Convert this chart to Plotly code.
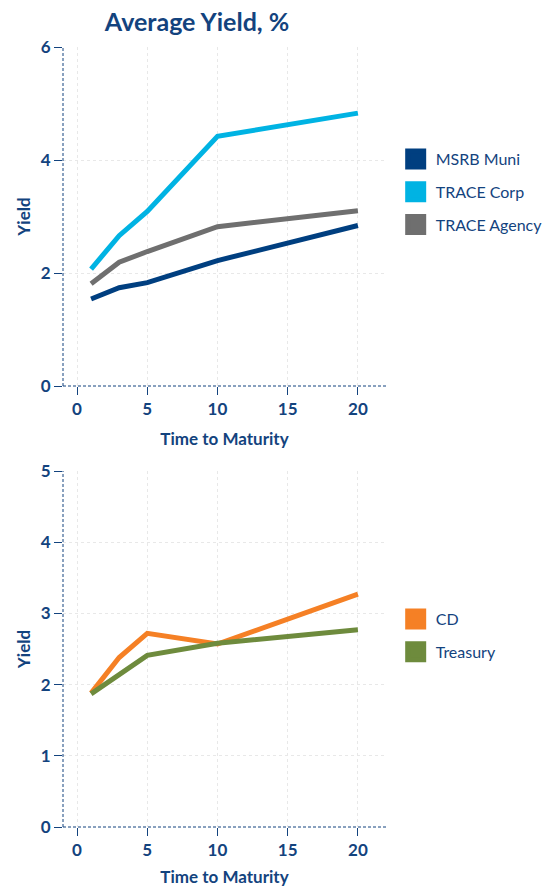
import plotly.graph_objects as go

# ---- data ----
maturity = [1, 3, 5, 10, 20]
msrb_muni = [1.54, 1.74, 1.83, 2.22, 2.84]
trace_corp = [2.07, 2.66, 3.09, 4.42, 4.83]
trace_agency = [1.81, 2.19, 2.38, 2.82, 3.10]
cd = [1.88, 2.38, 2.72, 2.57, 3.27]
treasury = [1.87, 2.13, 2.41, 2.58, 2.77]

top_names = ["MSRB Muni", "TRACE Corp", "TRACE Agency"]
top_values = [msrb_muni, trace_corp, trace_agency]
top_colors = ["#003f80", "#00b3e3", "#6f6f6f"]

bottom_names = ["CD", "Treasury"]
bottom_values = [cd, treasury]
bottom_colors = ["#f58025", "#6e8b3d"]

x_ticks = [0, 5, 10, 15, 20]
top_y_ticks = [0, 2, 4, 6]
bottom_y_ticks = [0, 1, 2, 3, 4, 5]

TEXT = "#13437e"
FONT = "Lato, 'Open Sans', sans-serif"
W, H = 546, 887

fig = go.Figure()

def add_group(names, values, colors, xa, ya, legend):
    for n, v, c in zip(names, values, colors):
        fig.add_trace(go.Scatter(x=maturity, y=v, mode="lines", name=n,
                                 line=dict(color=c, width=5),
                                 xaxis=xa, yaxis=ya, showlegend=False,
                                 hoverinfo="x+y+name"))
    for n, c in zip(names, colors):
        fig.add_trace(go.Scatter(x=[None], y=[None], mode="markers", name=n,
                                 marker=dict(symbol="square", size=16, color=c,
                                             line=dict(color=c, width=5)),
                                 xaxis=xa, yaxis=ya, legend=legend,
                                 legendgroup=n, showlegend=True))

add_group(top_names, top_values, top_colors, "x", "y", "legend")
add_group(bottom_names, bottom_values, bottom_colors, "x2", "y2", "legend2")

def px_y(p):
    return 1 - p / H

axis_common = dict(
    showline=False, zeroline=False, automargin=False,
    showgrid=True, gridcolor="#e8e8e8", griddash="3px,3px", gridwidth=1,
    ticks="outside", ticklen=8, tickcolor=TEXT, tickwidth=1,
    tickfont=dict(family=FONT, size=17, color=TEXT, weight="bold"),
)

title_font = dict(family=FONT, size=17, color=TEXT, weight="bold")

xcommon = dict(axis_common, range=[-1, 22], tickvals=x_ticks,
               title=dict(text="Time to Maturity", standoff=14, font=title_font))

fig.update_layout(
    width=W, height=H,
    margin=dict(l=63, r=160, t=0, b=0, autoexpand=False),
    plot_bgcolor="white", paper_bgcolor="white",
    font=dict(family=FONT, color=TEXT),
    title=dict(text="<b>Average Yield, %</b>", x=0.415, xref="paper", xanchor="center",
               y=px_y(22), yref="paper", yanchor="middle", automargin=False,
               font=dict(family=FONT, size=25, color=TEXT)),
    xaxis=dict(xcommon, domain=[0, 1], anchor="y"),
    yaxis=dict(axis_common, domain=[px_y(386), px_y(47)], range=[0, 6],
               tickvals=top_y_ticks, anchor="x",
               title=dict(text="Yield", standoff=5, font=title_font)),
    xaxis2=dict(xcommon, domain=[0, 1], anchor="y2"),
    yaxis2=dict(axis_common, domain=[px_y(827), px_y(471)], range=[0, 5],
                tickvals=bottom_y_ticks, anchor="x2",
                title=dict(text="Yield", standoff=5, font=title_font)),
    legend=dict(x=1.03, xanchor="left", y=px_y(142), yanchor="top",
                font=dict(family=FONT, size=16, color=TEXT),
                tracegroupgap=9, bgcolor="rgba(0,0,0,0)"),
    legend2=dict(x=1.03, xanchor="left", y=px_y(602), yanchor="top",
                 font=dict(family=FONT, size=16, color=TEXT),
                 tracegroupgap=9, bgcolor="rgba(0,0,0,0)"),
    showlegend=True,
)

# dashed axis lines
for xa, ya in [("x", "y"), ("x2", "y2")]:
    fig.add_shape(type="line", xref=f"{xa} domain", yref=f"{ya} domain",
                  x0=0, x1=0, y0=0, y1=1, line=dict(color=TEXT, width=1, dash="3px,2px"))
    fig.add_shape(type="line", xref=f"{xa} domain", yref=f"{ya} domain",
                  x0=0, x1=1, y0=0, y1=0, line=dict(color=TEXT, width=1, dash="3px,2px"))

fig.write_html("out.html", config={"displayModeBar": False},
               post_script="document.body.style.margin='0';document.body.style.overflow='hidden';")
